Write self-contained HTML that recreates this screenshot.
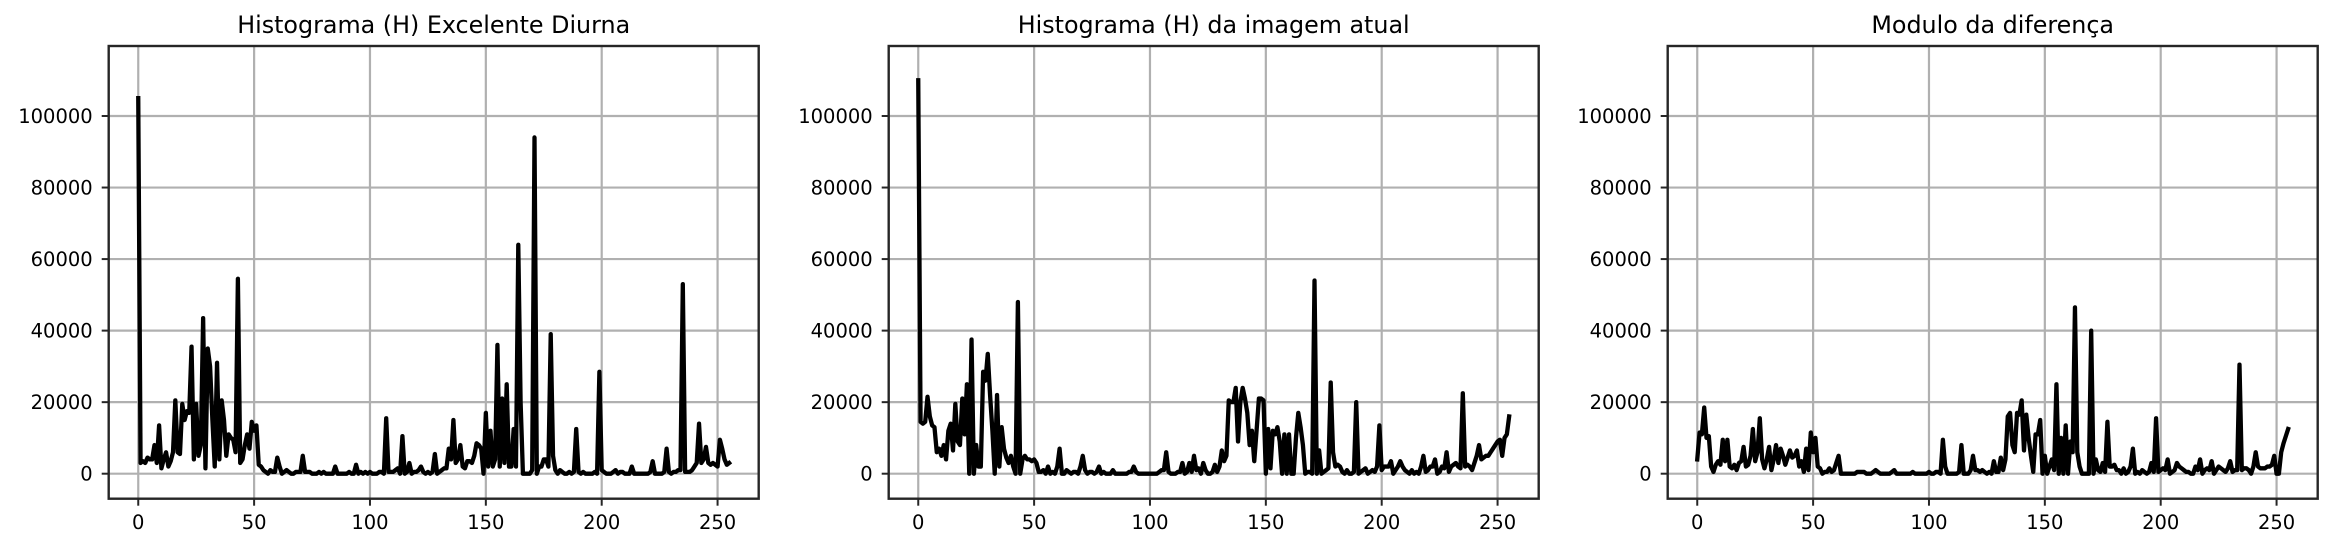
<!DOCTYPE html>
<html><head><meta charset="utf-8">
<style>
html,body{margin:0;padding:0;background:#fff;}
svg{display:block;font-family:"DejaVu Sans","Liberation Sans",sans-serif;}
</style></head>
<body>
<svg id="fig" width="2332" height="549" viewBox="0 0 2332 549" xmlns="http://www.w3.org/2000/svg">
<rect width="2332" height="549" fill="#fff"/>
</svg>
<script>
// values in thousands of pixels (counts / 1000)
const histExcelente = [105,3,3.5,3,4.5,4,4,8,3,13.5,1.5,4,6,2,3.5,6,20.5,6,5.5,19.5,15,17.5,17,35.5,4,19.5,5,8,43.5,1.5,35,30,15,2,31,4,20.5,15,5,11,10,9.5,6,54.5,3,4,8,11,7,14.5,12,13.5,2.5,2,1,0.5,
0,1,0.5,0.5,4.5,2,0,0.5,1,0.5,0,0,0.5,0.5,0.5,5,0.5,0.5,0.5,0,0,0,0.5,0,0.5,0,0,0,0,2,0,0,0,0,0,0.5,0,0,2.5,0,0.5,0,0.5,0,0.5,0,0,0,0.5,0.5,0,
15.5,0.5,0.5,0.5,1,1.5,0,10.5,0,0.5,3,0,0.5,0.5,1,2,0.5,0,0.5,0,0.5,5.5,0,0.5,1,1.5,1.5,7,4,15,3,4,8,2,1.5,3.5,3.5,3,5,8.5,8,7,0,17,2,12,2,4,36,2,21,3,25,2,2,12.5,2,64,20,0,0,0,0,1,94,0,2,2,4,4,2,39,5,1,0,1,0.5,0,0,0.5,0,0.5,12.5,0.5,0,0.5,0,0,0,0,0.5,0,28.5,1,0.5,0,0,0,0.5,1,0,0.5,0.5,0,0,0,2,0,0,0,0,0,0,0,0.5,3.5,0,0,0,0,0.5,7,0.5,0,0.5,0.5,1,1,53,0.5,0.5,0.5,1,2,3,14,3,4,7.5,3,2.5,3,2.5,2,9.5,7,4,2.5,3];
const histAtual = [110,14.5,14,14.5,21.5,16,13.5,13,6,7,5,8,4,12,14,6.5,19.5,9,8,21,11,25,0,37.5,0,8,2,2,28.5,26,33.5,22,12,0,22,2,13,7,4.5,3,5,2,0,48,0,4,5,4,4,3.5,4,3,0.5,0.5,1,0,2,0,0.5,0,2,7,0,0,1,0.5,0,0.5,0.5,0,2,5,
1,0,0.5,0.5,0,0.5,2,0,0.5,0,0,0,1,0,0,0,0,0,0,0.5,0.5,2,0.5,0,0,0,0,0,0,0,0,0,0.5,1,1,6,0.5,0,0,0,0.5,0.5,3,0,0.5,3,0.5,5,1,1.5,0,3,1,0,0,0.5,2.5,0.5,2,6.5,3.5,5,20.5,20,20,24,9,20,24,21,17,8,12,3.5,12,21,21,20.5,0,12.5,1.5,12,11,13,9,0,11,0,11,0,0,10,17,13,8,0,0.5,0.5,0,54,0,6.5,0,0.5,1,1.5,25.5,6,2,2.5,2,0.5,0,1,0,0,0.5,20,0,0.5,1,1.5,0,0.5,1,0.5,2,13.5,1,2,2,2,3.5,0,1,2,3.5,2,1,0.5,0,1,0,0.5,0,2,5,0.5,1,2,2,4,0,0.5,2,1.5,6,0.5,2,2.5,3,2,1.5,22.5,2,2.5,2,1,3,5,8,4,4.5,5,5,6,7,8,9,9.5,5,10,11,16];
const histDiff = [4,11.5,11,18.5,10,10.5,2,0.5,2.5,3.5,2.5,9.5,3.5,9.5,2,1.5,2.5,1,3,3.5,7.5,2,2.5,5,12.5,3.5,6,15.5,4,1.5,4,7.5,1,4,8,3,7,5,2.5,4.5,6.5,4.5,5,6.5,2,3.5,0.5,7,1,11.5,6,10,2,1.5,0,0.5,0.5,1.5,0.5,1,3,5,0,0,0,0,0,0,0,0.5,0.5,0.5,0.5,0,0,0,0.5,1,0.5,0,0,0,0,0,0.5,1,0,0,0,0,0,0,0,0.5,0,0,0,0,0,0,0.5,0,0,0.5,0.5,0,9.5,2,0,0,0,0,0,0.5,8,0,0,0,1,5,1,1,0.5,1,0.5,0,0.5,0,3.5,0.5,0.5,4.5,1,4,16,17,8,6,17,16.5,20.5,6.5,16.5,10,5,0.5,11,11,15,0,5,0,2,4,1,25,0,10,0,13.5,0,9,6,46.5,6,2,0,0,0,0,40,0,4,1,0.5,3,0.5,14.5,2,2,2.5,1,1,0,1.5,0,0.5,2,7,0,0.5,0,1,0.5,0,0.5,3,0.5,15.5,0.5,1,1.5,1,4,0,0.5,1,3,2,1.5,1,0.5,0.5,0,0,2,1,4,0,1,1.5,1,3.5,0,1,2,1.5,1,0.5,1.5,3.5,0.5,1,1,30.5,1,1.5,1.5,1,0,2,6,2,1.5,1.5,1.5,2,2,2.5,5,0,0,6,8.5,10.5,12.5];
const countUnit = 1000;
const panelTitles = ["Histograma (H) Excelente Diurna","Histograma (H) da imagem atual","Modulo da diferença"];
const xTicks = [0,50,100,150,200,250];
const yTicks = [0,20000,40000,60000,80000,100000];

const NS="http://www.w3.org/2000/svg";
const svg=document.getElementById('fig');
function mk(tag,attrs,parent){const e=document.createElementNS(NS,tag);for(const k in attrs)e.setAttribute(k,attrs[k]);(parent||svg).appendChild(e);return e;}

const panelLefts=[108.7,888.7,1667.7];
const W=650, axTop=46, axBottom=498.7;
const xMin=-12.75, xMax=267.75, yMin=-6990, yMax=119570;
const series=[histExcelente,histAtual,histDiff];
const seriesNames=['line-excelente-diurna','line-imagem-atual','line-modulo-diferenca'];

series.forEach((data,p)=>{
  const L=panelLefts[p];
  const xs=v=>L+(v-xMin)/(xMax-xMin)*W;
  const ys=v=>axBottom-(v-yMin)/(yMax-yMin)*(axBottom-axTop);
  const g=mk('g',{});
  
  
  xTicks.forEach(t=>{
    const l=mk('line',{x1:xs(t),x2:xs(t),y1:axTop,y2:axBottom,stroke:'#b0b0b0','stroke-width':2.2},g);
    
    
  });
  yTicks.forEach(t=>{
    const l=mk('line',{x1:L,x2:L+W,y1:ys(t),y2:ys(t),stroke:'#b0b0b0','stroke-width':2.2},g);
    
    
  });
  const pts=data.map((v,i)=>xs(i).toFixed(2)+','+ys(v*countUnit).toFixed(2)).join(' ');
  const pl=mk('polyline',{points:pts,fill:'none',stroke:'#000','stroke-width':4.3,'stroke-linejoin':'round','stroke-linecap':'square'},g);
  
  
  const fr=mk('rect',{x:L,y:axTop,width:W,height:axBottom-axTop,fill:'none',stroke:'#262626','stroke-width':2.4},g);
  
  
  xTicks.forEach(t=>{
    mk('line',{x1:xs(t),x2:xs(t),y1:axBottom,y2:axBottom+7,stroke:'#262626','stroke-width':2},g);
    const tx=mk('text',{x:xs(t),y:529,'text-anchor':'middle','font-size':19.5,fill:'#000'},g);
    tx.textContent=t;
    
    
  });
  yTicks.forEach(t=>{
    mk('line',{x1:L-7,x2:L,y1:ys(t),y2:ys(t),stroke:'#262626','stroke-width':2},g);
    const tx=mk('text',{x:L-16,y:ys(t)+7,'text-anchor':'end','font-size':19.5,fill:'#000'},g);
    tx.textContent=t;
    
    
  });
  const ti=mk('text',{x:L+W/2,y:33,'text-anchor':'middle','font-size':23.8,fill:'#000'},g);
  ti.textContent=panelTitles[p];
  
  
});
</script>
</body></html>
